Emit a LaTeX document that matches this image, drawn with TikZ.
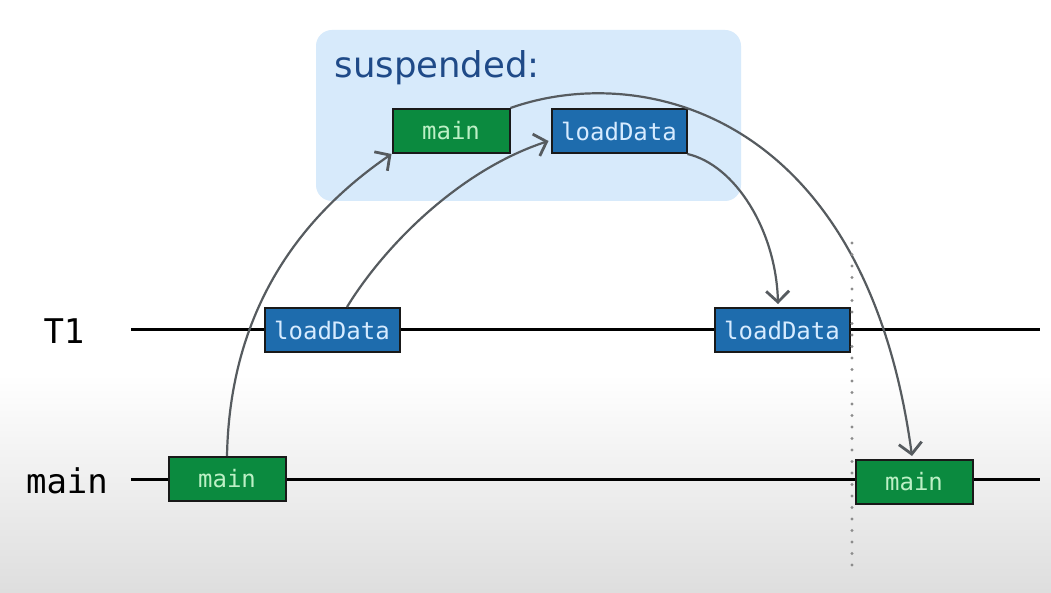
\documentclass[tikz,border=0pt]{standalone}
\usepackage{fontspec}
\setmainfont{DejaVu Sans}
\setmonofont{DejaVu Sans Mono}
\usetikzlibrary{arrows.meta}
\definecolor{mainfill}{HTML}{0B8A3F}
\definecolor{maintext}{HTML}{BDF0C6}
\definecolor{loadfill}{HTML}{1E6CAD}
\definecolor{loadtext}{HTML}{D6EBFF}
\definecolor{suspfill}{HTML}{D7EAFB}
\definecolor{susptext}{HTML}{1F4A88}
\definecolor{jumpgray}{HTML}{565B5F}
\tikzset{
  task/.style={draw=black!90,line width=2pt,minimum height=44pt,inner sep=0pt,
    font=\ttfamily\fontsize{24}{26}\selectfont},
  maintask/.style={task,fill=mainfill,text=maintext,minimum width=117pt},
  loadtask/.style={task,fill=loadfill,text=loadtext,minimum width=135pt},
  jump/.style={draw=jumpgray,line width=2.2pt,-{Straight Barb[length=11pt,width=23pt,line width=2.8pt]}},
  lane/.style={line width=3pt},
  lanelabel/.style={font=\ttfamily\fontsize{34}{36}\selectfont}
}
\begin{document}
\begin{tikzpicture}[x=1pt,y=-1pt]
\fill[white] (0,0) rectangle (1051,375);
\shade[top color=white,bottom color=black!13] (0,374) rectangle (1051,593);
\useasboundingbox (0,0) rectangle (1051,593);

\fill[suspfill,rounded corners=16pt] (316,30) rectangle (741,201);
\node (susp) [anchor=base west,text=susptext,font=\fontsize{35.5}{40}\selectfont]
    at (331,78) {suspended:};

\node (t1) [lanelabel] at (64,331) {T1};
\node (mn) [lanelabel] at (67,481) {main};
\draw[lane] (131,329) coordinate (t1s) -- (1040,329) coordinate (t1e);
\draw[lane] (131,479) coordinate (mns) -- (1040,479) coordinate (mne);

\node (sm) [maintask] at (451,131) {main};
\node (sl) [loadtask] at (619,131) {loadData};
\node (la) [loadtask] at (332,330) {loadData};
\node (lb) [loadtask] at (782,330) {loadData};
\node (ma) [maintask] at (227,479) {main};
\node (mb) [maintask] at (914,482) {main};

\path (la.north) +(15,0) coordinate (lao) {};
\path (sl.west) +(-2,10) coordinate (sli) {};
\path (lb.north) +(-4,-3) coordinate (lbi) {};
\path (mb.north) +(-2,-3) coordinate (mbi) {};
\draw[jump] (ma.north) .. controls (230,300) and (310,210) .. (sm.south west);
\draw[jump] (lao) .. controls (385,245) and (460,170) .. (sli);
\draw[jump] (sl.south east) .. controls (735,165) and (776,230) .. (lbi);
\draw[jump] (sm.north east) .. controls (640,62) and (865,110) .. (mbi);

\draw[black!45,line width=3.2pt,line cap=round,dash pattern=on 0pt off 11.5pt]
    (852,243) coordinate (cut) -- (852,574);
\end{tikzpicture}
\end{document}
